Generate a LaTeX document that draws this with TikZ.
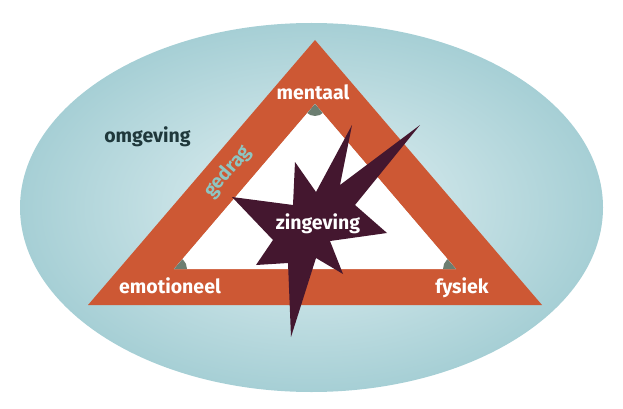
\documentclass[tikz,border=0pt]{standalone}
\usepackage{fontspec}
\setmainfont{Fira Sans}
\newfontfamily\labfont{Fira Sans}
\definecolor{ovout}{HTML}{A6CFD5}
\definecolor{ovin}{HTML}{E3F1F3}
\definecolor{tri}{HTML}{CD5834}
\definecolor{corner}{HTML}{6C7E71}
\definecolor{star}{HTML}{44172F}
\definecolor{envtext}{HTML}{1F383B}
\definecolor{behtext}{HTML}{8EC5C1}
\begin{document}
\begin{tikzpicture}[x=1pt,y=-1pt,
  lab/.style={font=\labfont\bfseries\fontsize{19.5}{19.5}\selectfont, text=white, inner sep=0pt, anchor=base},
]
\useasboundingbox (0,0) rectangle (623,409);
% environment ellipse
\shade[inner color=ovin, outer color=ovout] (311.5,207.5) ellipse [x radius=291.5, y radius=184.5];
% triangle band
\coordinate (oA) at (315,40);
\coordinate (oB) at (88,305);
\coordinate (oC) at (542,305);
\coordinate (iA) at (315,104);
\coordinate (iB) at (174,269);
\coordinate (iC) at (456,269);
\fill[tri, even odd rule] (oA) -- (oB) -- (oC) -- cycle (iA) -- (iB) -- (iC) -- cycle;
\fill[white] (iA) -- (iB) -- (iC) -- cycle;
% corner fillets
\begin{scope}
  \clip (iA) -- (iB) -- (iC) -- cycle;
  \fill[corner] (iA) circle (12);
  \fill[corner] (iB) circle (13);
  \fill[corner] (iC) circle (13);
\end{scope}
% star
\fill[star] (352,125) -- (340,185) -- (420,125) -- (355,205) -- (387,233) -- (330,241)
  -- (343,274) -- (316,258) -- (291,337) -- (288,263) -- (256,265) -- (273,240)
  -- (232,197) -- (293,205) -- (295,162) -- (316,192) -- cycle;
% labels
\node[lab] (mentaal) at (313,100) {mentaal};
\node[lab] (emotioneel) at (170,293) {emotioneel};
\node[lab] (fysiek) at (462,293) {fysiek};
\node[lab] (zingeving) at (318,229) {zingeving};
\node[lab, text=envtext] (omgeving) at (147.5,142) {omgeving};
\node[lab, text=behtext, rotate=49.5, anchor=center] (gedrag) at (228,172) {gedrag};
\end{tikzpicture}
\end{document}
